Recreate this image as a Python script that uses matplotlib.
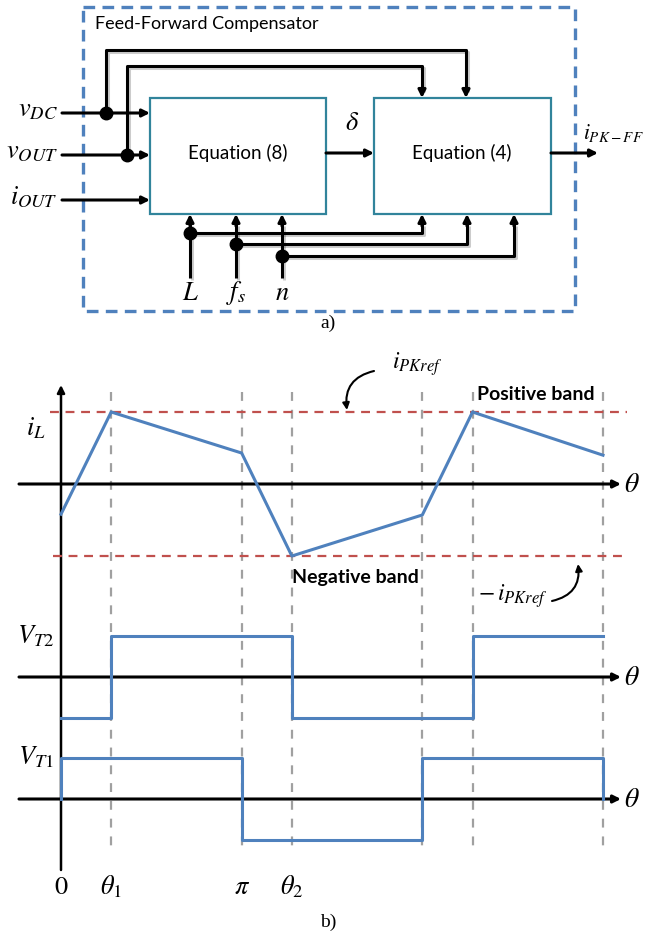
"""
plot.py

Feed-forward compensator block diagram (a) and switching waveforms (b).
"""

import matplotlib.pyplot as plt
import matplotlib.patheffects as pe
from matplotlib.patches import Rectangle
from matplotlib.transforms import blended_transform_factory

plt.rcParams["mathtext.fontset"] = "stix"
plt.rcParams["font.family"] = ["Lato", "DejaVu Sans"]

# waveform data, angle in degrees (pi = 180)
theta_marks = [50, 180, 230, 360, 410, 540]
tick_theta = [0, 50, 180, 230]
tick_labels = ["$0$", r"$\theta_1$", r"$\pi$", r"$\theta_2$"]

il_theta = [0, 50, 180, 230, 360, 410, 540]
il_values = [-0.42, 1.0, 0.43, -1.0, -0.43, 1.0, 0.40]
pk_ref = 1.0

vt2_theta = [0, 50, 230, 410, 540]
vt2_values = [-1, 1, -1, 1, 1]

vt1_theta = [0, 0, 180, 360, 540, 540]
vt1_values = [0, 1, -1, 1, 1, 0]

BLUE = "#4F81BD"
TEAL = "#31849B"
RED = "#C0504D"
GRAY = "#A0A0A0"

W, H = 654, 938
X0, XS = 61, (603 - 61) / 540.0
XLIM = (-X0 / XS, (W - X0) / XS)

fig = plt.figure(figsize=(W / 100, H / 100), dpi=100)
ax = fig.add_axes([0, 0, 1, 1])
ax.set_xlim(0, W)
ax.set_ylim(H, 0)
ax.axis("off")

shadow = [pe.SimpleLineShadow(offset=(1.2, -1.2), alpha=0.2), pe.Normal()]


def line(xs, ys, lw=2.2, color="k"):
    ax.plot(xs, ys, color=color, lw=lw, solid_capstyle="butt",
            path_effects=shadow)


def arrow(x0, y0, x1, y1, lw=2.2):
    ax.annotate("", xy=(x1, y1), xytext=(x0, y0),
                arrowprops=dict(arrowstyle="-|>", lw=lw, color="k",
                                mutation_scale=11, shrinkA=0, shrinkB=0))


def dot(x, y):
    ax.plot(x, y, "o", color="k", ms=9)


# ---------------- a) block diagram ----------------
ax.add_patch(Rectangle((83, 7), 492, 304, fill=False, ec=BLUE, lw=2.4,
                       ls=(0, (3.5, 2.2))))
ax.text(95, 24, "Feed-Forward Compensator", fontsize=13, va="center")

ax.add_patch(Rectangle((150, 98), 176, 116, fill=False, ec=TEAL, lw=1.6))
ax.add_patch(Rectangle((374, 98), 177, 116, fill=False, ec=TEAL, lw=1.6))
ax.text(238, 153, "Equation (8)", fontsize=13.5, ha="center", va="center")
ax.text(462, 153, "Equation (4)", fontsize=13.5, ha="center", va="center")

# inputs on the left
for y, lab in [(113, r"$v_{DC}$"), (155, r"$v_{OUT}$"), (200, r"$i_{OUT}$")]:
    arrow(62, y, 150, y)
    ax.text(58, y - 3, lab, fontsize=19, ha="right", va="center")

# vDC and vOUT fed forward to equation (4)
line([106, 106, 466, 466], [113, 50, 50, 90])
arrow(466, 88, 466, 98)
dot(106, 113)
line([127, 127, 422, 422], [155, 66, 66, 90])
arrow(422, 88, 422, 98)
dot(127, 155)

# delta and output
arrow(326, 153, 374, 153)
ax.text(352, 122, r"$\delta$", fontsize=19, ha="center", va="center")
arrow(551, 153, 598, 153)
ax.text(583, 133, r"$i_{PK-FF}$", fontsize=15.5, ha="left", va="center")

# bottom inputs L, fs, n
for x, yd, xr, lab in [(190, 233, 422, r"$L$"), (236, 244, 467, r"$f_s$"),
                       (282, 256, 514, r"$n$")]:
    line([x, x], [278, 224])
    arrow(x, 226, x, 214)
    line([x, xr, xr], [yd, yd, 224])
    arrow(xr, 226, xr, 214)
    dot(x, yd)
    ax.text(x, 293, lab, fontsize=19, ha="center", va="center")

ax.text(328, 323, "a)", fontsize=14, ha="center", va="center",
        family="Liberation Serif")


# ---------------- b) waveforms ----------------
def trace_axes(y_top, y_bot, base, amp):
    a = fig.add_axes([0, 1 - y_bot / H, 1, (y_bot - y_top) / H])
    a.set_xlim(*XLIM)
    a.set_ylim(-(y_bot - base) / amp, (base - y_top) / amp)
    a.axis("off")
    a.patch.set_alpha(0)
    return a


ax_il = trace_axes(330, 600, 484, 72)
ax_t2 = trace_axes(600, 740, 677, 41)
ax_t1 = trace_axes(740, 938, 799, 41)

# dashed angle markers spanning all traces
tr = blended_transform_factory(ax_il.transData, ax.transData)
for th in theta_marks:
    ax.plot([th, th], [392, 852], transform=tr, color=GRAY, lw=1.6,
            ls=(0, (4, 4)))

# axes: vertical and three theta axes
arrow(61, 870, 61, 385, lw=1.8)
for y in [484, 677, 799]:
    arrow(19, y, 621, y, lw=2.2)
    ax.text(624, y, r"$\theta$", fontsize=20, ha="left", va="center")

# peak current references
ax_il.plot([-11, 564], [pk_ref, pk_ref], color=RED, lw=1.6, ls=(0, (4, 3)))
ax_il.plot([-8, 564], [-pk_ref, -pk_ref], color=RED, lw=1.6, ls=(0, (4, 3)))

ax_il.plot(il_theta, il_values, color=BLUE, lw=2.2)
ax_t2.plot(vt2_theta, vt2_values, color=BLUE, lw=2.2, drawstyle="steps-post")
ax_t1.plot(vt1_theta, vt1_values, color=BLUE, lw=2.2, drawstyle="steps-post")

ax.text(36, 428, r"$i_L$", fontsize=19, ha="center", va="center")
ax.text(36, 636, r"$V_{T2}$", fontsize=19, ha="center", va="center")
ax.text(36, 757, r"$V_{T1}$", fontsize=19, ha="center", va="center")

ax.text(536, 395, "Positive band", fontsize=14, fontweight="bold",
        ha="center", va="center")
ax.text(355, 577, "Negative band", fontsize=14, fontweight="bold",
        ha="center", va="center")

ax.text(392, 364, r"$i_{PKref}$", fontsize=17, ha="left", va="center")
ax.annotate("", xy=(347, 410), xytext=(374, 371),
            arrowprops=dict(arrowstyle="-|>", lw=1.5, color="k",
                            mutation_scale=10, shrinkA=0, shrinkB=0,
                            connectionstyle="arc3,rad=0.45"))
ax.text(478, 596, r"$-\,i_{PKref}$", fontsize=17, ha="left", va="center")
ax.annotate("", xy=(578, 564), xytext=(552, 601),
            arrowprops=dict(arrowstyle="-|>", lw=1.5, color="k",
                            mutation_scale=10, shrinkA=0, shrinkB=0,
                            connectionstyle="arc3,rad=0.45"))

tr_t = blended_transform_factory(ax_il.transData, ax.transData)
for th, lab in zip(tick_theta, tick_labels):
    ax.text(th, 887, lab, transform=tr_t, fontsize=19, ha="center",
            va="center")

ax.text(328, 922, "b)", fontsize=14, ha="center", va="center",
        family="Liberation Serif")

fig.savefig("out.png", dpi=100)
